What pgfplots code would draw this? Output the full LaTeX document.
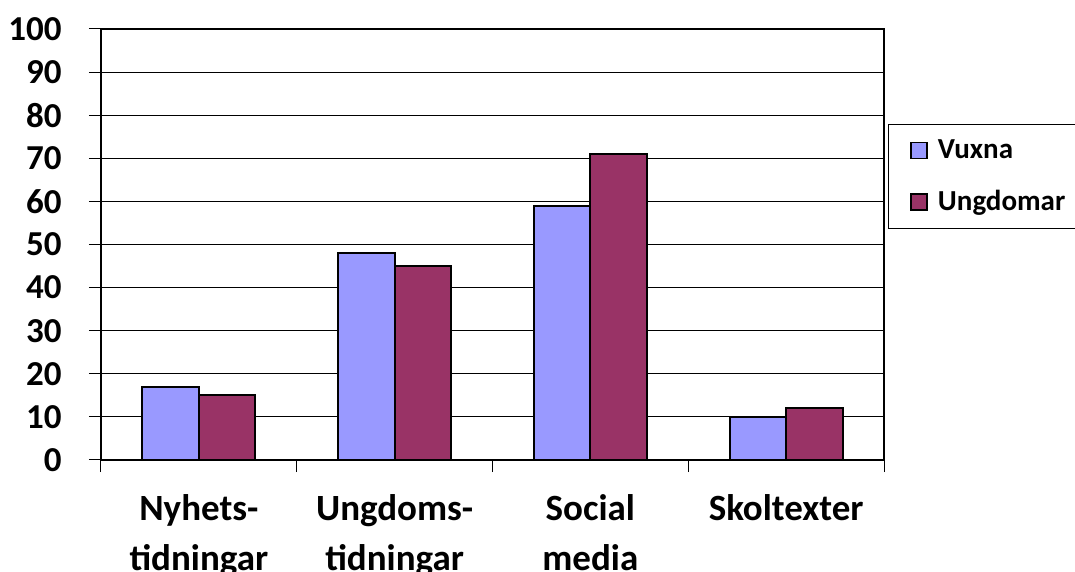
\documentclass[border=0pt]{standalone}
\usepackage{pgfplots}
\pgfplotsset{compat=1.18}
\usepackage{fontspec}
\setmainfont{Carlito}
\definecolor{vuxna}{HTML}{9999FF}
\definecolor{ungdomar}{HTML}{993366}
\begin{document}
\begin{tikzpicture}
% picture frame: 1 px = 0.5 pt, plot area 783 x 431 px
\path[use as bounding box] (-50.5pt,-56pt) rectangle (487pt,230pt);
\begin{axis}[
  at={(0pt,0pt)}, anchor=south west,
  scale only axis, width=391.5pt, height=215.5pt,
  ybar=0pt, bar width=28.25pt,
  xmin=-0.5, xmax=3.5, ymin=0, ymax=100,
  ytick={0,10,...,100},
  xtick={0,1,2,3},
  xticklabels={{Nyhets-\\tidningar},{Ungdoms-\\tidningar},{Social\\media},{Skoltexter}},
  tick pos=left,
  major x tick style={draw=none},
  extra x ticks={-0.5,0.5,1.5,2.5,3.5},
  extra x tick labels={},
  extra x tick style={grid=none, major tick length=6pt, tick align=outside, xtick pos=bottom, major x tick style={draw=black, line width=0.5pt}},
  ymajorgrids, grid style={black, line width=0.5pt},
  major tick length=6pt, tick align=outside,
  y tick style={black, line width=0.5pt},
  axis line style={black, line width=1pt},
  /pgf/number format/assume math mode=true,
  yticklabel style={font=\bfseries\fontsize{17.5}{20}\selectfont, anchor=east, inner sep=0pt, xshift=-13.5pt},
  xticklabel style={font=\bfseries\fontsize{18.5}{25}\selectfont, align=center, anchor=north, inner sep=0pt, yshift=-11pt},
  legend style={at={(rel axis cs:1.0051,0.7796)}, anchor=north west,
    draw=black, line width=0.5pt,
    font=\bfseries\fontsize{14.5}{16}\selectfont,
    inner xsep=11pt, inner ysep=5.5pt, row sep=10.5pt,
    nodes={inner xsep=5pt},
    legend cell align=left},
  legend image code/.code={\draw[#1, line width=0.75pt] (0pt,-4pt) rectangle (8pt,4pt);},
  clip=false,
]
\addplot[fill=vuxna, draw=black, line width=1pt] coordinates {(0,17) (1,48) (2,59) (3,10)};
\addplot[fill=ungdomar, draw=black, line width=1pt] coordinates {(0,15) (1,45) (2,71) (3,12)};
\legend{Vuxna, Ungdomar}
\end{axis}
\end{tikzpicture}
\end{document}
